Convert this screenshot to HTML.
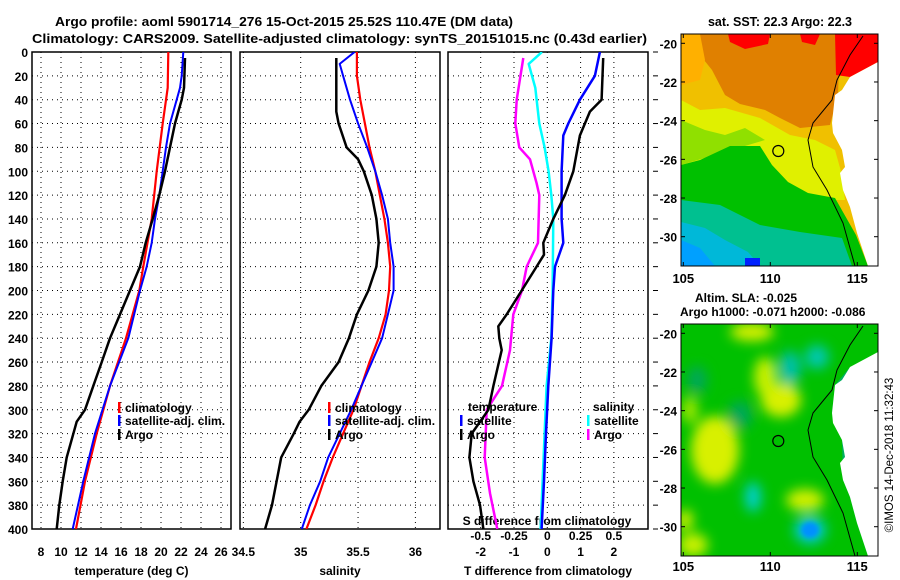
<!DOCTYPE html>
<html><head><meta charset="utf-8"><style>
html,body{margin:0;padding:0;background:#fff;}
svg{display:block;font-family:"Liberation Sans",sans-serif;font-weight:bold;}
</style></head><body>
<svg id="fig" width="900" height="580" viewBox="0 0 900 580">
<defs>
<clipPath id="c1"><rect x="32" y="52" width="199" height="477"/></clipPath>
<clipPath id="c2"><rect x="240" y="52" width="200" height="477"/></clipPath>
<clipPath id="c3"><rect x="448" y="52" width="200" height="477"/></clipPath>
<clipPath id="m1"><rect x="681" y="34" width="197" height="232"/></clipPath>
<clipPath id="m2"><rect x="681" y="324" width="197" height="232"/></clipPath>
<filter id="bl" x="-50%" y="-50%" width="200%" height="200%"><feGaussianBlur stdDeviation="6"/></filter>
<filter id="bl2" x="-50%" y="-50%" width="200%" height="200%"><feGaussianBlur stdDeviation="2.5"/></filter>
</defs>
<text x="55" y="26" font-size="13" textLength="458" lengthAdjust="spacingAndGlyphs">Argo profile: aoml 5901714_276 15-Oct-2015 25.52S 110.47E (DM data)</text>
<text x="32" y="43" font-size="13" textLength="615" lengthAdjust="spacingAndGlyphs">Climatology: CARS2009. Satellite-adjusted climatology: synTS_20151015.nc (0.43d earlier)</text>
<g id="plots"></g>

<g>
<text x="780" y="26" font-size="12.5" text-anchor="middle">sat. SST: 22.3 Argo: 22.3</text>
<g clip-path="url(#m1)">
<rect x="681" y="34" width="197" height="232" fill="#f0c000"/>
<polygon fill="#e08000" points="695,34 840,34 838,95 830,125 800,128 780,118 765,110 740,104 725,95 712,70 700,55"/>
<polygon fill="#ffb000" points="681,34 700,34 705,60 700,80 681,85"/>
<polygon fill="#ff0000" points="835,34 878,34 878,62 850,77 836,75"/>
<polygon fill="#ff0000" points="728,34 770,34 768,44 745,49 730,42"/>
<polygon fill="#ff0000" points="800,34 820,34 815,45 802,42"/>
<polygon fill="#e0f000" points="681,100 700,110 725,108 760,118 790,135 815,140 835,150 842,175 845,200 681,200"/>
<polygon fill="#90e000" points="681,120 705,130 725,135 745,128 765,140 681,165"/>
<polygon fill="#00c000" points="681,165 700,160 730,146 760,146 772,165 788,182 808,193 835,198 856,235 868,266 681,266"/>
<polygon fill="#00c090" points="681,200 720,205 760,225 800,232 842,238 852,266 681,266"/>
<polygon fill="#00b8d8" points="681,222 705,228 725,240 748,252 760,266 681,266"/>
<polygon fill="#00a0ff" points="681,240 700,248 715,266 681,266"/>
<rect x="745" y="258" width="15" height="8" fill="#0020ff"/>
<polygon fill="#fff" points="878,62 850,77 842,90 835,95 832,123 833,133 842,150 845,167 840,173 843,190 850,207 857,233 868,266 878,266"/>
<polyline fill="none" stroke="#000" stroke-width="1" points="863,36 850,55 837,80 832,100 813,123 808,140 813,167 827,190 843,223 855,266"/>
<circle cx="778.3" cy="151" r="5.5" fill="none" stroke="#000" stroke-width="1.2"/>
</g>
<rect x="681" y="34" width="197" height="232" fill="none" stroke="#000" stroke-width="1"/>
</g>

<g>
<text x="695" y="302" font-size="12">Altim. SLA: -0.025</text>
<text x="680" y="316" font-size="12">Argo h1000: -0.071 h2000: -0.086</text>
<g clip-path="url(#m2)">
<rect x="681" y="324" width="197" height="232" fill="#00c000"/>
<g filter="url(#bl)">
<ellipse cx="715" cy="450" rx="24" ry="34" fill="#d8f000"/>
<ellipse cx="781" cy="400" rx="20" ry="17" fill="#d8f000"/>
<ellipse cx="765" cy="377" rx="11" ry="20" fill="#c8f000"/>
<ellipse cx="752" cy="332" rx="22" ry="9" fill="#d8f000"/>
<ellipse cx="805" cy="500" rx="19" ry="11" fill="#d0f000"/>
<ellipse cx="693" cy="545" rx="15" ry="12" fill="#c8f000"/>
<ellipse cx="685" cy="520" rx="8" ry="10" fill="#d8f000"/>
<ellipse cx="690" cy="410" rx="8" ry="14" fill="#a0e800"/>
<ellipse cx="790" cy="368" rx="11" ry="17" fill="#00c0a8"/>
<ellipse cx="817" cy="357" rx="12" ry="12" fill="#00c8b0"/>
<ellipse cx="740" cy="415" rx="12" ry="14" fill="#00a858"/>
<ellipse cx="697" cy="380" rx="10" ry="14" fill="#00a858"/>
<ellipse cx="753" cy="497" rx="8" ry="15" fill="#00d0d0"/>
<ellipse cx="810" cy="530" rx="16" ry="14" fill="#00c8d0"/>
</g>
<ellipse cx="810" cy="530" rx="9" ry="8" fill="#0090ff" filter="url(#bl2)"/>
<polygon fill="#00b060" points="878,355 850,367 835,385 832,413 842,440 843,480 850,497 857,523 868,556 878,556"/>
<polygon fill="#fff" points="878,352 850,367 842,380 835,385 832,413 833,423 842,440 845,457 840,463 843,480 850,497 857,523 868,556 878,556"/>
<polyline fill="none" stroke="#000" stroke-width="1" points="863,326 850,345 837,370 832,390 813,413 808,430 813,457 827,480 843,513 855,556"/>
<circle cx="778.3" cy="441" r="5.5" fill="none" stroke="#000" stroke-width="1.2"/>
</g>
<rect x="681" y="324" width="197" height="232" fill="none" stroke="#000" stroke-width="1"/>
</g>
<text transform="translate(893,455) rotate(-90)" font-size="11.5" font-weight="normal" text-anchor="middle">©IMOS 14-Dec-2018 11:32:43</text>
<g id="maps-axes"></g>
</svg>
<script>
const tClimDepth=[0,30,60,100,140,180,200,240,280,320,360,400];
const tClimVal=[20.73,20.67,20.17,19.57,19.07,18.23,17.83,16.5,14.9,13.57,12.4,11.5];
const tSatDepth=[0,20,30,40,60,80,100,120,140,160,180,200,240,280,320,360,400];
const tSatVal=[22.23,22.07,21.9,21.57,20.9,20.5,20.17,19.83,19.4,19.07,18.57,17.9,16.73,14.9,13.4,12.23,11.17];
const tArgoDepth=[5,30,40,50,60,80,100,120,140,160,180,200,220,240,260,280,300,310,340,360,380,400];
const tArgoVal=[22.4,22.3,22.07,21.73,21.4,20.9,20.4,19.83,19.17,18.47,17.9,16.9,15.9,14.9,14.07,13.23,12.4,11.57,10.57,10.17,9.83,9.57];
const sClimDepth=[0,20,40,60,80,100,120,140,160,180,200,220,240,260,280,300,320,340,360,380,400];
const sClimVal=[35.49,35.49,35.52,35.56,35.6,35.65,35.69,35.73,35.76,35.78,35.77,35.74,35.68,35.6,35.53,35.46,35.37,35.28,35.2,35.13,35.05];
const sSatDepth=[0,10,20,40,60,80,100,120,140,160,180,200,220,240,260,280,300,320,340,360,380,400];
const sSatVal=[35.47,35.34,35.37,35.43,35.5,35.58,35.65,35.71,35.76,35.78,35.81,35.81,35.76,35.71,35.62,35.53,35.44,35.34,35.24,35.17,35.08,35.01];
const sArgoDepth=[5,50,60,80,90,100,120,140,160,180,200,220,240,260,280,300,310,320,340,360,380,400];
const sArgoVal=[35.31,35.31,35.33,35.4,35.5,35.55,35.62,35.66,35.68,35.66,35.59,35.49,35.42,35.33,35.18,35.07,34.99,34.94,34.83,34.79,34.75,34.69];
const dTSatDepth=[0,20,40,60,70,100,140,160,180,200,240,280,320,360,400];
const dTSatVal=[1.58,1.43,0.98,0.63,0.48,0.43,0.43,0.48,0.23,0.18,0.13,0.03,-0.04,-0.1,-0.17];
const dTArgoDepth=[5,40,50,70,100,120,140,160,170,180,200,220,230,240,250,280,300,320,340,360,380,400];
const dTArgoVal=[1.68,1.63,1.28,0.98,0.78,0.53,0.18,-0.12,-0.1,-0.32,-0.77,-1.22,-1.47,-1.44,-1.37,-1.62,-1.77,-2.27,-2.34,-2.22,-2.02,-1.92];
const dSSatDepth=[0,10,30,60,80,100,120,140,200,240,280,320,360,400];
const dSSatVal=[-0.04,-0.14,-0.09,-0.06,-0.02,0.01,0.03,0.045,0.04,0.03,-0.005,-0.02,-0.035,-0.05];
const dSArgoDepth=[5,40,60,80,90,110,120,160,180,200,220,250,280,300,340,370,400];
const dSArgoVal=[-0.18,-0.23,-0.24,-0.21,-0.13,-0.08,-0.06,-0.07,-0.155,-0.19,-0.255,-0.28,-0.34,-0.455,-0.47,-0.43,-0.375];
const depthTicks=[0,20,40,60,80,100,120,140,160,180,200,220,240,260,280,300,320,340,360,380,400];
const tTicks=[8,10,12,14,16,18,20,22,24,26];
const sTicks=[34.5,35,35.5,36];
const sTickLabels=["34.5","35","35.5","36"];
const dTTicks=[-2,-1,0,1,2];
const dSTicks=[-0.5,-0.25,0,0.25,0.5];
const dSTickLabels=["-0.5","-0.25","0","0.25","0.5"];
const lonTicks=[105,110,115];
const latTicks=[-20,-22,-24,-26,-28,-30];

const NS='http://www.w3.org/2000/svg';
const top0=52, bot0=529;
const yD=d=>top0+(d/400)*(bot0-top0);
const xT=v=>41+(v-8)*10;
const xS=v=>300.7+(v-35)*114.7;
const xDT=v=>547.3+v*33.3;
const xDS=v=>547.3+v*133.2;
const root=document.getElementById('plots');
function mk(tag,attrs,parent){const e=document.createElementNS(NS,tag);for(const k in attrs)e.setAttribute(k,attrs[k]);(parent||root).appendChild(e);return e;}
function txt(x,y,s,anchor,size,parent){const e=mk('text',{x:x,y:y,'font-size':size||12,'text-anchor':anchor||'start'},parent);e.textContent=s;return e;}

const panels=[
 {x0:32,x1:231,clip:'c1',fx:xT,ticks:tTicks,labels:tTicks.map(String),title:'temperature (deg C)',name:'temperature-panel'},
 {x0:240,x1:440,clip:'c2',fx:xS,ticks:sTicks,labels:sTickLabels,title:'salinity',name:'salinity-panel'},
 {x0:448,x1:648,clip:'c3',fx:xDT,ticks:dTTicks,labels:dTTicks.map(String),title:'T difference from climatology',name:'difference-panel'}
];
panels.forEach((p,i)=>{
 const g=mk('g',{});
 
 
 depthTicks.forEach(d=>{
  const l=mk('line',{x1:p.x0,x2:p.x1,y1:yD(d),y2:yD(d),stroke:'#000','stroke-width':1,'stroke-dasharray':'1,4'},g);
  
  
  if(i===0){const t=txt(28,yD(d)+5,String(d),'end',12,g);
   
   }
  if(i===2){mk('line',{x1:p.x1+5,x2:p.x1+10,y1:yD(d),y2:yD(d),stroke:'#000'},g);}
 });
 p.ticks.forEach((v,k)=>{
  const x=p.fx(v);
  const l=mk('line',{x1:x,x2:x,y1:top0,y2:bot0,stroke:'#000','stroke-width':1,'stroke-dasharray':'1,4'},g);
  
  
  const t=txt(x,556,p.labels[k],'middle',12,g);
  
  
 });
 const fr=mk('rect',{x:p.x0,y:top0,width:p.x1-p.x0,height:bot0-top0,fill:'none',stroke:'#000','stroke-width':1.5},g);
 
 
 const tt=txt((p.x0+p.x1)/2,575,p.title,'middle',12,g);
 
 
});
dSTicks.forEach((v,k)=>{const t=txt(xDS(v),540,dSTickLabels[k],'middle',12);
 
 });
const sdt=txt(547,525,'S difference from climatology','middle',12);



function series(depths,vals,fx,clip,color,w,name){
 const pts=depths.map((d,k)=>fx(vals[k]).toFixed(1)+','+yD(d).toFixed(1)).join(' ');
 const e=mk('polyline',{points:pts,fill:'none',stroke:color,'stroke-width':w,'clip-path':'url(#'+clip+')','stroke-linejoin':'round'});
 
 
}
series(tClimDepth,tClimVal,xT,'c1','#ff0000',2.2,'temp-climatology-line');
series(tSatDepth,tSatVal,xT,'c1','#0000ff',2,'temp-satellite-line');
series(tArgoDepth,tArgoVal,xT,'c1','#000',2.5,'temp-argo-line');
series(sClimDepth,sClimVal,xS,'c2','#ff0000',2.2,'sal-climatology-line');
series(sSatDepth,sSatVal,xS,'c2','#0000ff',2,'sal-satellite-line');
series(sArgoDepth,sArgoVal,xS,'c2','#000',2.5,'sal-argo-line');
series(dSSatDepth,dSSatVal,xDS,'c3','#00ffff',2.5,'sdiff-satellite-line');
series(dSArgoDepth,dSArgoVal,xDS,'c3','#ff00ff',2.5,'sdiff-argo-line');
series(dTSatDepth,dTSatVal,xDT,'c3','#0000ff',2.5,'tdiff-satellite-line');
series(dTArgoDepth,dTArgoVal,xDT,'c3','#000',2.5,'tdiff-argo-line');

function legend(x,y,color,label,name){
 const g=mk('g',{});
 
 
 mk('rect',{x:x,y:y-10,width:2.5,height:11,fill:color},g);
 txt(x+7,y,label,'start',12,g);
}
legend(118,412,'#ff0000','climatology','legend-temp-climatology');
legend(118,425,'#0000ff','satellite-adj. clim.','legend-temp-satellite');
legend(118,439,'#000','Argo','legend-temp-argo');
legend(328,412,'#ff0000','climatology','legend-sal-climatology');
legend(328,425,'#0000ff','satellite-adj. clim.','legend-sal-satellite');
legend(328,439,'#000','Argo','legend-sal-argo');
const lt=txt(468,411,'temperature','start',12);


legend(460,425,'#0000ff','satellite','legend-tdiff-satellite');
legend(460,439,'#000','Argo','legend-tdiff-argo');
const ls=txt(593,411,'salinity','start',12);


legend(587,425,'#00ffff','satellite','legend-sdiff-satellite');
legend(587,439,'#ff00ff','Argo','legend-sdiff-argo');

const ma=document.getElementById('maps-axes');
const xLon=v=>683.3+(v-105)*17.4;
[[0,283],[290,571]].forEach(([off,ly])=>{
 lonTicks.forEach(v=>{
  const x=xLon(v);
  mk('line',{x1:x,x2:x,y1:34+off,y2:38+off,stroke:'#000'},ma);
  mk('line',{x1:x,x2:x,y1:262+off,y2:266+off,stroke:'#000'},ma);
  const t=txt(x,ly,String(v),'middle',13,ma);
  
  
 });
 latTicks.forEach(v=>{
  const y=43.3+(-20-v)*19.34+off;
  mk('line',{x1:681,x2:685,y1:y,y2:y,stroke:'#000'},ma);
  mk('line',{x1:874,x2:878,y1:y,y2:y,stroke:'#000'},ma);
  const t=txt(677,y+5,String(v),'end',12,ma);
  
  
 });
});
</script>
</body></html>
